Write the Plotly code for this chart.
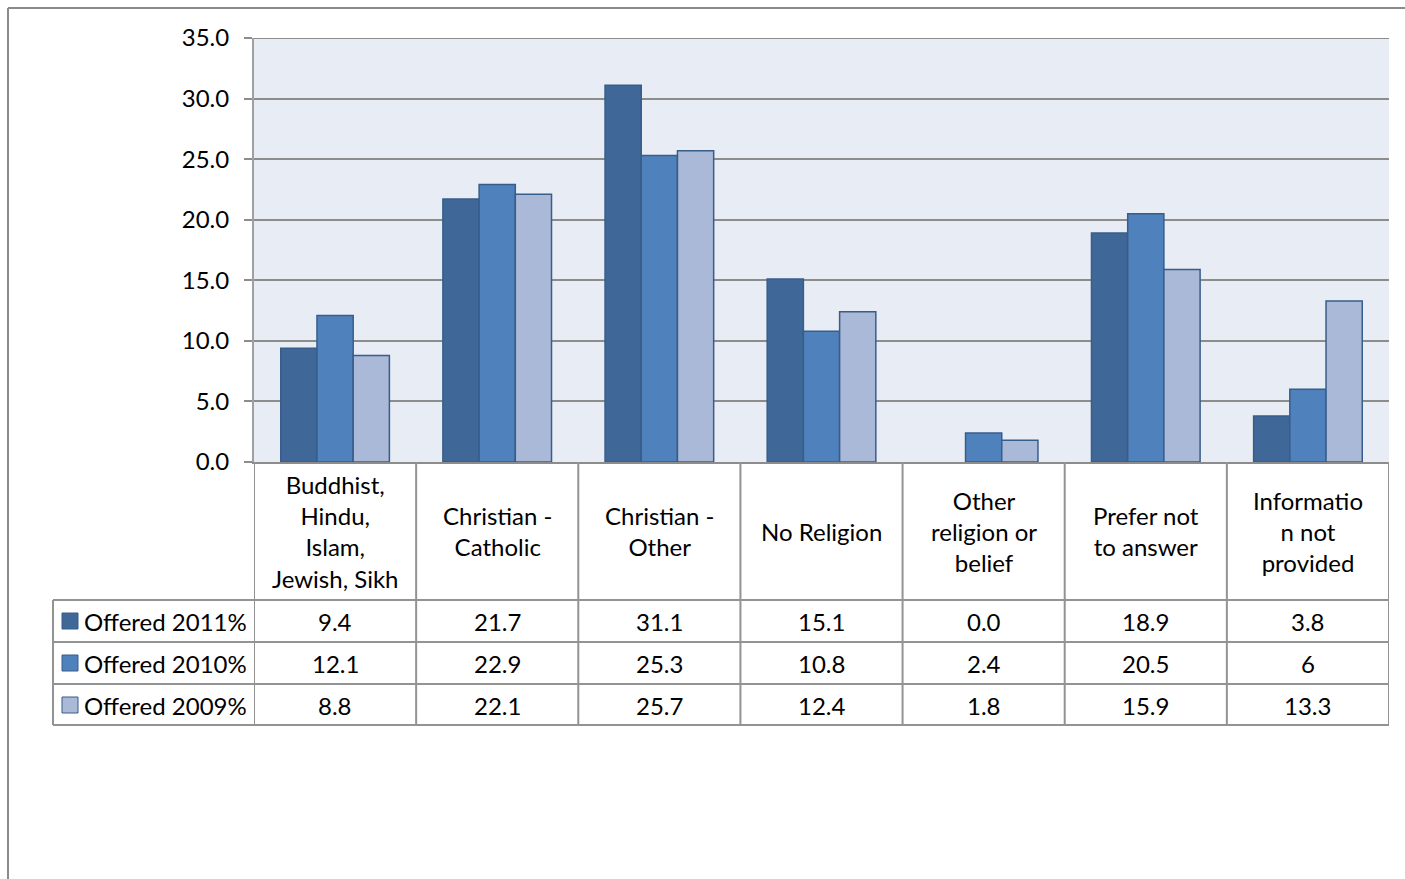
import plotly.graph_objects as go

categories = ["Buddhist,<br>Hindu,<br>Islam,<br>Jewish, Sikh", "Christian -<br>Catholic",
              "Christian -<br>Other", "No Religion", "Other<br>religion or<br>belief",
              "Prefer not<br>to answer", "Informatio<br>n not<br>provided"]
series_names = ["Offered 2011%", "Offered 2010%", "Offered 2009%"]
offered_2011 = [9.4, 21.7, 31.1, 15.1, 0.0, 18.9, 3.8]
offered_2010 = [12.1, 22.9, 25.3, 10.8, 2.4, 20.5, 6]
offered_2009 = [8.8, 22.1, 25.7, 12.4, 1.8, 15.9, 13.3]
series_values = [offered_2011, offered_2010, offered_2009]
colors = ["#3F6797", "#4F81BD", "#AAB9D7"]
y_max = 35

W, H = 1405, 879
def px(x):
    return x / W
def py(y):
    return 1 - y / H

FONT = "Lato"
FS = 24
TXT = "#000000"
GRID = "#8C8C8C"

fig = go.Figure()
for name, vals, col in zip(series_names, series_values, colors):
    fig.add_trace(go.Bar(x=categories, y=vals, name=name,
                         marker=dict(color=col,
                                     line=dict(color="#385D8A",
                                               width=[1.5 if v else 0 for v in vals]))))

shapes = []
annotations = []
line = dict(color="#939393", width=2)

# outer border
shapes.append(dict(type="line", xref="paper", yref="paper", x0=px(8), x1=px(1405), y0=py(8), y1=py(8),
                   line=dict(color="#8A8A8A", width=2)))
shapes.append(dict(type="line", xref="paper", yref="paper", x0=px(8), x1=px(8), y0=py(8), y1=py(879),
                   line=dict(color="#8A8A8A", width=2)))

# top gridline at the axis maximum
shapes.append(dict(type="line", xref="x domain", yref="y", x0=0, x1=1, y0=y_max, y1=y_max,
                   line=dict(color=GRID, width=2), layer="above"))

# table vertical lines (header row + data rows)
n = len(categories)
for i in range(n + 1):
    shapes.append(dict(type="line", xref="x", yref="paper", x0=i - 0.5, x1=i - 0.5,
                       y0=py(462), y1=py(725), line=line))
shapes.append(dict(type="line", xref="paper", yref="paper", x0=px(53), x1=px(53),
                   y0=py(600), y1=py(725), line=line))
row_lines = [600, 642, 684, 725]
for r in row_lines:
    shapes.append(dict(type="line", xref="paper", yref="paper", x0=px(53), x1=px(1389),
                       y0=py(r), y1=py(r), line=line))

# category header texts
for i, c in enumerate(categories):
    annotations.append(dict(x=i, xref="x", y=py(531), yref="paper", text=c, showarrow=False,
                            xanchor="center", yanchor="middle", align="center",
                            font=dict(family=FONT, size=FS, color=TXT)))

def fmt(v):
    return str(v) if isinstance(v, int) else f"{v:.1f}"

row_centers = [621, 663, 705]
for name, vals, col, yc in zip(series_names, series_values, colors, row_centers):
    shapes.append(dict(type="rect", xref="paper", yref="paper", x0=px(62), x1=px(78),
                       y0=py(yc - 8), y1=py(yc + 8), fillcolor=col,
                       line=dict(color="#385D8A", width=1)))
    annotations.append(dict(x=px(82), xref="paper", y=py(yc), yref="paper", text=name,
                            showarrow=False, xanchor="left", yanchor="middle",
                            font=dict(family=FONT, size=FS, color=TXT)))
    for i, v in enumerate(vals):
        annotations.append(dict(x=i, xref="x", y=py(yc), yref="paper", text=fmt(v),
                                showarrow=False, xanchor="center", yanchor="middle",
                                font=dict(family=FONT, size=FS, color=TXT)))

fig.update_layout(
    template="none",
    width=W, height=H, margin=dict(l=0, r=0, t=0, b=0, pad=0, autoexpand=False),
    paper_bgcolor="white", plot_bgcolor="#E8EDF5",
    barmode="group", bargap=0.33, bargroupgap=0,
    showlegend=False,
    font=dict(family=FONT, size=FS, color=TXT),
    xaxis=dict(domain=[px(254), px(1389)], showticklabels=False, showgrid=False,
               showline=True, linecolor=GRID, linewidth=2, ticks="", zeroline=False,
               automargin=False, range=[-0.5, n - 0.5]),
    yaxis=dict(domain=[py(462), py(38)], range=[0, y_max], dtick=5, tickformat=".1f",
               showgrid=True, gridcolor=GRID, gridwidth=2, zeroline=False,
               showline=True, linecolor="#A0A0A0", linewidth=2, automargin=False,
               ticks="outside", ticklen=8, tickcolor=GRID, tickwidth=2,
               ticklabelstandoff=10,
               tickfont=dict(family=FONT, size=FS, color=TXT)),
    shapes=shapes, annotations=annotations,
)

fig.write_html("out.html")
